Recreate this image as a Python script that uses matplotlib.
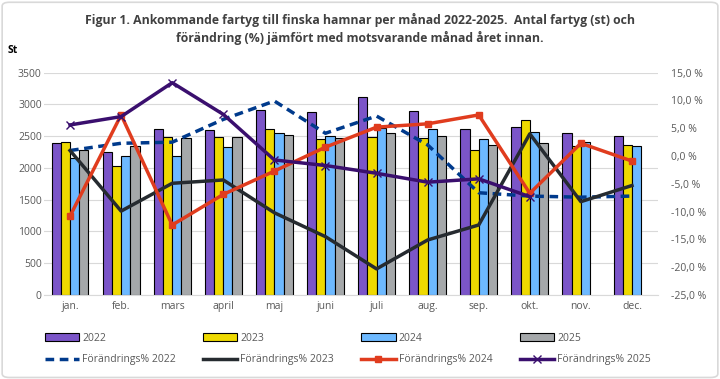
import matplotlib
matplotlib.use("Agg")
import matplotlib.pyplot as plt
from matplotlib.patches import FancyBboxPatch
from matplotlib.ticker import FuncFormatter
import numpy as np

months = ["jan.", "feb.", "mars", "april", "maj", "juni", "juli", "aug.", "sep.", "okt.", "nov.", "dec."]

ships_2022 = [2388, 2246, 2608, 2592, 2907, 2876, 3122, 2902, 2608, 2639, 2545, 2498]
ships_2023 = [2403, 2025, 2482, 2482, 2608, 2451, 2493, 2466, 2277, 2750, 2340, 2356]
ships_2024 = [2151, 2183, 2183, 2325, 2550, 2498, 2624, 2608, 2451, 2566, 2403, 2340]
ships_2025 = [2283, 2340, 2466, 2482, 2514, 2466, 2545, 2498, 2356, 2388, np.nan, np.nan]

pct_2022 = [1.0, 2.3, 2.5, 6.6, 9.9, 4.1, 7.2, 2.0, -6.6, -7.2, -7.4, -7.2]
pct_2023 = [1.0, -9.9, -4.9, -4.3, -10.2, -14.5, -20.3, -15.1, -12.4, 4.0, -8.2, -5.3]
pct_2024 = [-10.8, 7.4, -12.4, -6.9, -2.7, 1.6, 5.2, 5.8, 7.4, -6.7, 2.3, -0.9]
pct_2025 = [5.6, 7.1, 13.2, 7.5, -0.7, -1.7, -3.1, -4.7, -4.1, -7.3, np.nan, np.nan]

title = "Figur 1. Ankommande fartyg till finska hamnar per månad 2022-2025.  Antal fartyg (st) och\nförändring (%) jämfört med motsvarande månad året innan."

FONT = ["Open Sans", "DejaVu Sans"]
plt.rcParams["font.family"] = FONT
tick_color = "#595959"

fig = plt.figure(figsize=(7.2, 3.79), dpi=100)
ax = fig.add_axes([0.0618, 0.2216, 0.8514, 0.5866])
ax2 = ax.twinx()

x = np.arange(len(months))
w = 0.18
bar_colors = ["#7B55C8", "#EED900", "#6DB9FF", "#A5A8AA"]
bar_data = [ships_2022, ships_2023, ships_2024, ships_2025]
bar_labels = ["2022", "2023", "2024", "2025"]
bars = []
for i, (d, c, lab) in enumerate(zip(bar_data, bar_colors, bar_labels)):
    b = ax.bar(x + (i - 1.5) * w, d, width=w, color=c, edgecolor="black", linewidth=0.8, label=lab, zorder=2)
    bars.append(b)

ax.set_ylim(0, 3500)
ax.set_yticks(np.arange(0, 3501, 500))
ax.set_xlim(-0.5, 11.5)
ax.set_xticks(x)
ax.set_xticklabels(months)
ax.grid(axis="y", color="#D9D9D9", linewidth=0.8, zorder=0)
ax.set_axisbelow(True)
for s in ["top", "left", "right"]:
    ax.spines[s].set_visible(False)
ax.spines["bottom"].set_color("#D9D9D9")
ax.tick_params(axis="both", length=0, labelsize=7.5, colors=tick_color, pad=4)
ax.tick_params(axis="y", pad=2)

l1, = ax2.plot(x, pct_2022, color="#003A8C", lw=2.5, linestyle=(0, (2.5, 1.6)), label="Förändrings% 2022")
l2, = ax2.plot(x, pct_2023, color="#262B30", lw=2.5, label="Förändrings% 2023")
l3, = ax2.plot(x, pct_2024, color="#E03C1E", lw=2.5, marker="s", markersize=5, label="Förändrings% 2024")
l4, = ax2.plot(x, pct_2025, color="#3A0F6E", lw=2.5, marker="x", markersize=6, markeredgewidth=1, label="Förändrings% 2025")
lines = [l1, l2, l3, l4]
ax2.set_ylim(-25, 15)
ax2.set_yticks(np.arange(-25, 16, 5))
ax2.yaxis.set_major_formatter(FuncFormatter(lambda v, p: f"{v:.1f}".replace(".", ",") + " %"))
for s in ["top", "left", "right", "bottom"]:
    ax2.spines[s].set_visible(False)
ax2.tick_params(axis="y", length=0, labelsize=7.5, colors=tick_color, pad=10)

fig.text(0.5, 0.967, title, ha="center", va="top", fontsize=8.8, fontweight="bold",
         color="#404040", linespacing=1.4)
fig.text(0.011, 0.868, "St", ha="left", va="center", fontsize=7.5, fontweight="bold", color="#000000")

handles = []
labels = []
for b, l in zip(bars, lines):
    handles += [b, l]
    labels += [b.get_label(), l.get_label()]
leg = fig.legend(handles, labels, ncol=4, loc="upper left", bbox_to_anchor=(0.062, 0.122),
                 frameon=False, fontsize=7.5, handlelength=3.3, handletextpad=0.3,
                 columnspacing=2.6, labelspacing=1.0, borderaxespad=0, borderpad=0)
for t in leg.get_texts():
    t.set_color(tick_color)

border = FancyBboxPatch((0.003, 0.004), 0.994, 0.99, boxstyle="round,pad=0,rounding_size=0.01",
                        transform=fig.transFigure, fill=False, edgecolor="#D9D9D9", linewidth=1.2)
fig.patches.append(border)

fig.savefig("out.png", dpi=100)
